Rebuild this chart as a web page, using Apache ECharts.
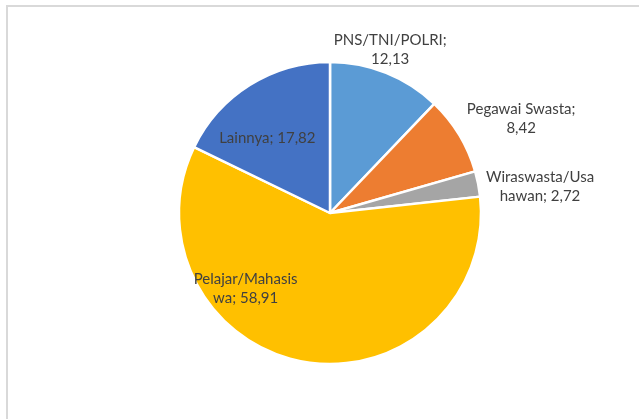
<!DOCTYPE html>
<html>
<head>
<meta charset="utf-8">
<script src="https://cdn.jsdelivr.net/npm/echarts@6/dist/echarts.min.js"></script>
<style>
html,body{margin:0;padding:0;background:#fff;}
#chart{width:639px;height:419px;}
</style>
</head>
<body>
<div id="chart"></div>
<script>
const categories = ['PNS/TNI/POLRI', 'Pegawai Swasta', 'Wiraswasta/Usahawan', 'Pelajar/Mahasiswa', 'Lainnya'];
const values = [12.13, 8.42, 2.72, 58.91, 17.82];
const labelTexts = ['PNS/TNI/POLRI;\n12,13', 'Pegawai Swasta;\n8,42', 'Wiraswasta/Usa\nhawan; 2,72', 'Pelajar/Mahasis\nwa; 58,91', 'Lainnya; 17,82'];

const colors = ['#5B9BD5', '#ED7D31', '#A5A5A5', '#FFC000', '#4472C4'];
const offsets = [[31, -90], [124, -54], [133, -11], [-71, -2], [-21, -8]];

const chart = echarts.init(document.getElementById('chart'));
chart.setOption({
  animation: false,
  graphic: [{
    type: 'rect',
    shape: {x: 7, y: 6, width: 700, height: 500},
    style: {fill: 'none', stroke: '#D9D9D9', lineWidth: 2},
    silent: true
  }],
  series: [{
    type: 'pie',
    center: [330, 213],
    radius: [0, 151],
    startAngle: 90,
    clockwise: true,
    itemStyle: {borderColor: '#fff', borderWidth: 2.5},
    labelLine: {show: false},
    label: {
      show: true,
      position: 'inside',
      fontFamily: 'Lato',
      fontSize: 15,
      lineHeight: 19,
      color: '#404040',
      align: 'center'
    },
    data: categories.map((c, i) => ({
      name: c,
      value: values[i],
      itemStyle: {color: colors[i]},
      label: {formatter: labelTexts[i], offset: offsets[i]}
    }))
  }]
});
</script>
</body>
</html>
